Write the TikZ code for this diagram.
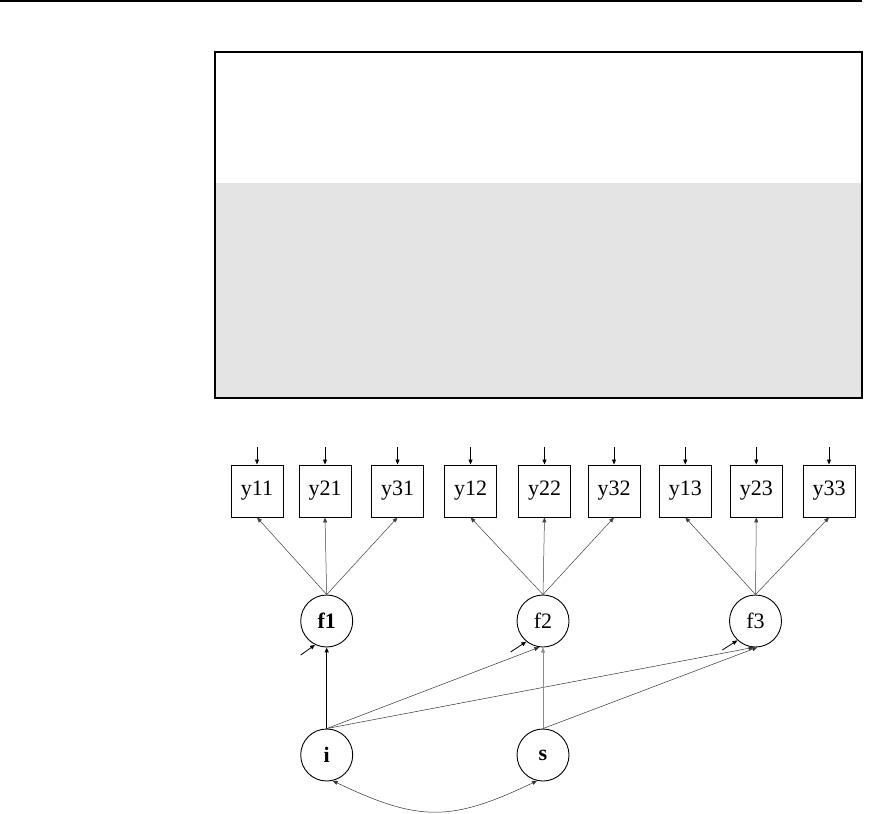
\documentclass[tikz,border=0pt]{standalone}
\usepackage{fontspec}
\setmainfont{Liberation Serif}
\usetikzlibrary{arrows.meta}
\definecolor{panelgray}{HTML}{E4E4E4}
\begin{document}
\begin{tikzpicture}[x=1pt,y=-1pt,
  obs/.style={draw,line width=0.9pt,minimum size=52pt,inner sep=0pt,font=\fontsize{22}{26}\selectfont},
  lat/.style={draw,circle,line width=0.9pt,minimum size=52pt,inner sep=0pt,font=\fontsize{22}{26}\selectfont},
  ld/.style={-{Triangle[length=5pt,width=4pt]},line width=0.5pt,black!75},
  err/.style={-{Triangle[length=5pt,width=4pt]},line width=0.8pt,black},
  reg/.style={-{Triangle[length=5pt,width=4pt]},line width=0.5pt,black!80}]
\useasboundingbox (0,0) rectangle (879,814);
% top rule and panel
\draw[line width=1.2pt] (0,1) -- (862,1);
\fill[panelgray] (215,183) rectangle (862,398);
\draw[line width=1.2pt] (215,52) rectangle (862,398);
% observed variables
\foreach \n/\x in {y11/257,y21/325,y31/397.5,y12/470.5,y22/544.5,y32/614,y13/685.3,y23/756.3,y33/829}{
  \node[obs] (\n) at (\x,491) {\n};
  \coordinate (e\n) at (\x,447);
  \draw[err] (e\n) -- (\n);
}
% latent variables
\node[lat] (f1) at (326.7,621) {\textbf{f1}};
\node[lat] (f2) at (543,621) {f2};
\node[lat] (f3) at (755.5,621) {f3};
\node[lat] (i) at (326.7,755) {\textbf{i}};
\node[lat] (s) at (543,755) {\textbf{s}};
% loadings
\foreach \f/\a/\b/\c in {f1/y11/y21/y31,f2/y12/y22/y32,f3/y13/y23/y33}{
  \draw[ld] (\f.north) -- (\a.south);
  \draw[ld] (\f.north) -- (\b.south);
  \draw[ld] (\f.north) -- (\c.south);
}
% residuals of factors
\coordinate (ef1) at (300.7,655);
\coordinate (ef2) at (510.7,652);
\coordinate (ef3) at (722.3,650);
\draw[err] (ef1) -- (f1.244);
\draw[err] (ef2) -- (f2.231);
\draw[err] (ef3) -- (f3.227);
% growth paths
\draw[-{Triangle[length=5pt,width=4pt]},line width=1.1pt] (i.north) -- (f1.south);
\draw[reg] (i.north) -- (f2.262);
\draw[reg] (i.north) -- (f3.266);
\draw[reg,black!45,line width=0.4pt] (s.north) -- (f2.south);
\draw[reg] (s.north) -- (f3.274);
% covariance
\draw[{Triangle[length=5pt,width=4pt]}-{Triangle[length=5pt,width=4pt]},line width=0.5pt,black!80]
  (i.283) .. controls (419,822) and (451,822) .. (s.257);
\end{tikzpicture}
\end{document}
